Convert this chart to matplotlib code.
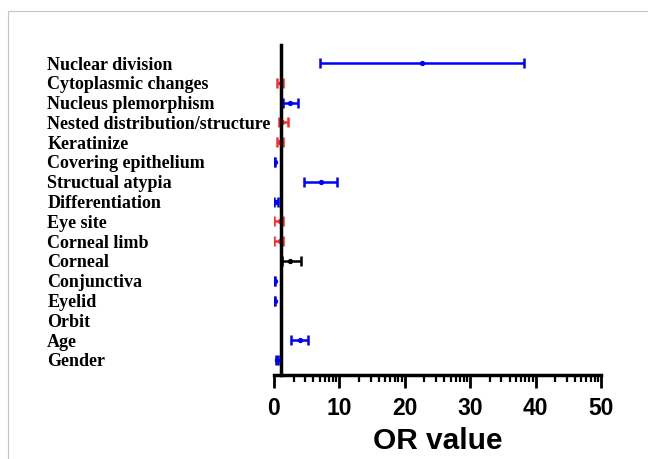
import numpy as np
import matplotlib
matplotlib.use('Agg')
import matplotlib.pyplot as plt
from matplotlib.patches import Rectangle

# rows from top to bottom
labels = ['Nuclear division', 'Cytoplasmic changes', 'Nucleus plemorphism',
          'Nested distribution/structure', 'Keratinize', 'Covering epithelium',
          'Structual atypia', 'Differentiation', 'Eye site', 'Corneal limb',
          'Corneal', 'Conjunctiva', 'Eyelid', 'Orbit', 'Age', 'Gender']
or_val = [22.7, 1.0, 2.5, 1.2, 0.9, 0.12, 7.2, 0.35, 0.9, 0.9,
          2.5, 0.12, 0.12, np.nan, 3.9, 0.45]
ci_low = [7.1, 0.4, 1.4, 0.8, 0.4, 0.05, 4.6, 0.05, 0.05, 0.05,
          1.15, 0.05, 0.05, np.nan, 2.65, 0.3]
ci_high = [38.3, 1.45, 3.7, 2.15, 1.4, 0.2, 9.7, 0.65, 1.3, 1.45,
           4.1, 0.2, 0.2, np.nan, 5.15, 0.6]
colors = ['#0000ff', '#ff2a2a', '#0000ff', '#ff2a2a', '#ff2a2a', '#0000ff',
          '#0000ff', '#0000ff', '#ff2a2a', '#ff2a2a', '#000000', '#0000ff',
          '#0000ff', '#0000ff', '#0000ff', '#0000ff']

fig = plt.figure(figsize=(6.48, 4.59), dpi=100)
ax = fig.add_axes([274/648, 84/459, 327/648, 330/459])

n = len(labels)
ypos = np.arange(n)[::-1]
for y, v, lo, hi, c in zip(ypos, or_val, ci_low, ci_high, colors):
    if np.isnan(v):
        continue
    ax.errorbar(v, y, xerr=[[v - lo], [hi - v]], fmt='o', color=c, ms=2.8,
                elinewidth=1.8, capsize=3.4, capthick=1.8)

ax.set_xlim(0, 50)
ax.set_ylim(-0.76, n - 1 + 0.91)

ax.spines['top'].set_visible(False)
ax.spines['right'].set_visible(False)
ax.spines['left'].set_position(('data', 1))
ax.spines['left'].set_linewidth(2.5)
ax.spines['bottom'].set_linewidth(2.5)

ax.set_xticks(np.arange(0, 51, 10))
minor = [d + 10 * np.log10(k) for d in range(0, 50, 10) for k in range(2, 10)]
ax.set_xticks(minor, minor=True)
ax.tick_params(axis='x', which='major', length=9, width=2, pad=7)
ax.tick_params(axis='x', which='minor', length=5, width=1.6)
for t in ax.get_xticklabels():
    t.set_fontfamily('Liberation Sans')
    t.set_fontweight('bold')
    t.set_fontsize(16.5)

ax.set_yticks(ypos)
ax.set_yticklabels(labels, family='Liberation Serif', fontweight='bold',
                   fontsize=13, ha='left')
ax.tick_params(axis='y', length=0, pad=168)

ax.set_xlabel('OR value', family='Liberation Sans', fontweight='bold',
              fontsize=21.5, labelpad=5)

fig.patches.append(Rectangle((8/648, -0.01), 1.1, (448/459) + 0.01,
                             transform=fig.transFigure, fill=False,
                             edgecolor='#c4c4c4', linewidth=0.8))

fig.savefig('out.png', dpi=100)
